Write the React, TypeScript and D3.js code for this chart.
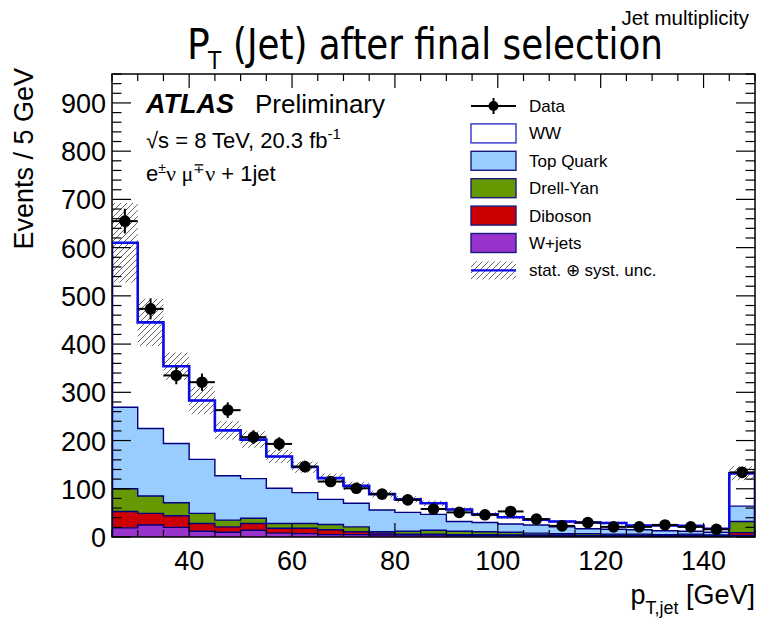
import React from 'react';
import * as d3 from 'd3';

// Bin lower edges (GeV), 5 GeV wide bins; last bin includes overflow
const binLow = [25, 30, 35, 40, 45, 50, 55, 60, 65, 70, 75, 80, 85, 90, 95, 100, 105, 110, 115, 120, 125, 130, 135, 140, 145];
const binWidth = 5;

const dataCounts = [655, 473, 335, 321, 263, 207, 193, 146, 115, 101, 89, 77, 58, 51, 46, 53, 37, 23, 30, 21, 21, 25, 21, 16, 134];
const wjets = [19, 25, 20, 12, 10, 14, 8, 7, 5, 5, 4, 4, 4, 3, 3, 3, 2, 2, 2, 2, 2, 1, 1, 1, 3];
const diboson = [34, 24, 24, 16, 11, 14, 10, 11, 10, 6, 4, 2, 2, 2, 2, 1, 2, 2, 1, 1, 1, 2, 2, 1, 6];
const drellYan = [47, 36, 27, 21, 14, 11, 10, 10, 11, 10, 3, 6, 8, 7, 6, 6, 4, 3, 4, 3, 3, 2, 3, 2, 23];
const topQuark = [169, 140, 123, 112, 92, 82, 73, 64, 52, 49, 45, 39, 33, 20, 19, 17, 17, 14, 10, 10, 9, 8, 6, 6, 32];
const ww = [341, 220, 160, 122, 94, 81, 66, 53, 44, 36, 33, 27, 23, 25, 17, 14, 11, 11, 13, 13, 9, 11, 11, 7, 68];
const relUnc = [0.135, 0.11, 0.08, 0.1, 0.085, 0.085, 0.08, 0.08, 0.08, 0.08, 0.08, 0.08, 0.08, 0.08, 0.09, 0.09, 0.1, 0.1, 0.1, 0.1, 0.1, 0.1, 0.1, 0.1, 0.11];

const xTicks = [40, 60, 80, 100, 120, 140];
const yTicks = [0, 100, 200, 300, 400, 500, 600, 700, 800, 900];

const seriesKeys = ['wjets', 'diboson', 'drellYan', 'topQuark', 'ww'];
const seriesColors: Record<string, string> = {
  wjets: '#9933cc',
  diboson: '#cc0000',
  drellYan: '#669900',
  topQuark: '#99ccff',
  ww: '#ffffff',
};
const legendLabels = ['Data', 'WW', 'Top Quark', 'Drell-Yan', 'Diboson', 'W+jets', 'stat. \u2295 syst. unc.'];
const legendKeys = ['data', 'ww', 'topQuark', 'drellYan', 'diboson', 'wjets', 'unc'];

const FONT = "'Liberation Sans', Arial, Helvetica, sans-serif";
const TITLE_FONT = "'Liberation Sans Narrow', 'DejaVu Sans Condensed', sans-serif";
const GREEK_FONT = "'Liberation Serif', 'DejaVu Serif', serif";

export default function App() {
  const W = 761, H = 620;
  const left = 112, right = 755, top = 74, bottom = 537;
  const x = d3.scaleLinear().domain([25, 150]).range([left, right]);
  const y = d3.scaleLinear().domain([0, 960]).range([bottom, top]);

  const rows = binLow.map((lo, i) => ({
    lo,
    wjets: wjets[i],
    diboson: diboson[i],
    drellYan: drellYan[i],
    topQuark: topQuark[i],
    ww: ww[i],
  }));
  const stacked = d3.stack<any>().keys(seriesKeys)(rows);
  const total = rows.map((r) => r.wjets + r.diboson + r.drellYan + r.topQuark + r.ww);

  type Pt = { x: number; y0: number; y1: number };
  const area = d3.area<Pt>().x((d) => x(d.x)).y0((d) => y(d.y0)).y1((d) => y(d.y1));
  const line = d3.line<[number, number]>().x((d) => x(d[0])).y((d) => y(d[1]));

  const stepArea = (lo: number[], hi: number[]): Pt[] =>
    binLow.flatMap((b, i) => [
      { x: b, y0: lo[i], y1: hi[i] },
      { x: b + binWidth, y0: lo[i], y1: hi[i] },
    ]);
  const stepLine = (vals: number[]): [number, number][] => [
    [binLow[0], 0],
    ...binLow.flatMap((b, i) => [[b, vals[i]], [b + binWidth, vals[i]]] as [number, number][]),
    [binLow[binLow.length - 1] + binWidth, 0],
  ];

  const uncLo = total.map((t, i) => t * (1 - relUnc[i]));
  const uncHi = total.map((t, i) => t * (1 + relUnc[i]));

  // ticks
  const xMinor = d3.range(25, 151, 5).filter((v) => !xTicks.includes(v));
  const yMinor = d3.range(0, 961, 20).filter((v) => v % 100 !== 0);
  const xMajLen = 14, xMinLen = 7, yMajLen = 19, yMinLen = 9.5;

  const legX = 471, legTextX = 529, legY0 = 106, legDy = 27.4;

  return (
    <svg width={W} height={H} style={{ position: 'absolute', left: 0, top: 0, background: '#fff' }} fontFamily={FONT}>
      <defs>
        <pattern id="hatch" patternUnits="userSpaceOnUse" width="6" height="6">
          <path d="M-1,7 L7,-1 M-4,4 L4,-4 M2,10 L10,2" stroke="#555" strokeWidth="0.9" />
        </pattern>
        <clipPath id="plotClip">
          <rect x={left} y={top} width={right - left} height={bottom - top} />
        </clipPath>
      </defs>
      <rect x={0} y={0} width={W} height={H} fill="#fff" />

      <g clipPath="url(#plotClip)">
        {/* stack fills */}
        {stacked.map((layer) => (
          <path
            key={layer.key}
            d={area(stepArea(layer.map((d) => d[0]), layer.map((d) => d[1])))!}
            fill={seriesColors[layer.key]}
            stroke="none"
          />
        ))}
        {/* stack outlines */}
        {stacked.map((layer) => (
          <path
            key={layer.key + '-o'}
            d={line(stepLine(layer.map((d) => d[1])))!}
            fill="none"
            stroke={layer.key === 'ww' ? '#1a1acc' : '#000080'}
            strokeWidth={1.4}
          />
        ))}
        {/* uncertainty band */}
        <path d={area(stepArea(uncLo, uncHi))!} fill="url(#hatch)" stroke="none" />
        {/* total line */}
        <path d={line(stepLine(total))!} fill="none" stroke="#0b0be8" strokeWidth={2.6} />

        {/* data */}
        {dataCounts.map((n, i) => {
          const cx = x(binLow[i] + binWidth / 2);
          const e = Math.sqrt(n);
          return (
            <g key={'d' + i}>
              <line x1={x(binLow[i])} x2={x(binLow[i] + binWidth)} y1={y(n)} y2={y(n)} stroke="#000" strokeWidth={2} />
              <line x1={cx} x2={cx} y1={y(n - e)} y2={y(n + e)} stroke="#000" strokeWidth={2} />
              <circle cx={cx} cy={y(n)} r={5.8} fill="#000" />
            </g>
          );
        })}
      </g>

      {/* frame */}
      <rect x={left} y={top} width={right - left} height={bottom - top} fill="none" stroke="#000" strokeWidth={1.5} />

      {/* x ticks */}
      {xTicks.map((v) => (
        <g key={'xt' + v}>
          <line x1={x(v)} x2={x(v)} y1={bottom} y2={bottom - xMajLen} stroke="#000" strokeWidth={1.2} />
          <line x1={x(v)} x2={x(v)} y1={top} y2={top + xMajLen} stroke="#000" strokeWidth={1.2} />
          <text x={x(v)} y={570} textAnchor="middle" fontSize={27} fill="#000">{v}</text>
        </g>
      ))}
      {xMinor.map((v) => (
        <g key={'xm' + v}>
          <line x1={x(v)} x2={x(v)} y1={bottom} y2={bottom - xMinLen} stroke="#000" strokeWidth={1.2} />
          <line x1={x(v)} x2={x(v)} y1={top} y2={top + xMinLen} stroke="#000" strokeWidth={1.2} />
        </g>
      ))}
      {/* y ticks */}
      {yTicks.map((v) => (
        <g key={'yt' + v}>
          <line x1={left} x2={left + yMajLen} y1={y(v)} y2={y(v)} stroke="#000" strokeWidth={1.2} />
          <line x1={right} x2={right - yMajLen} y1={y(v)} y2={y(v)} stroke="#000" strokeWidth={1.2} />
          <text x={106} y={y(v) + 10} textAnchor="end" fontSize={27} fill="#000">{v}</text>
        </g>
      ))}
      {yMinor.map((v) => (
        <g key={'ym' + v}>
          <line x1={left} x2={left + yMinLen} y1={y(v)} y2={y(v)} stroke="#000" strokeWidth={1.2} />
          <line x1={right} x2={right - yMinLen} y1={y(v)} y2={y(v)} stroke="#000" strokeWidth={1.2} />
        </g>
      ))}

      {/* axis titles */}
      <text x={755} y={604} textAnchor="end" fontSize={27} fill="#000">
        p<tspan fontSize={18} dy={10}>T,jet</tspan><tspan dy={-10}> [GeV]</tspan>
      </text>
      <text transform={`translate(33,68) rotate(-90)`} textAnchor="end" fontSize={27} fill="#000">Events / 5 GeV</text>

      {/* title */}
      <text y={59} fontSize={42} fill="#000" fontFamily={TITLE_FONT}>
        <tspan x={187}>P</tspan>
        <tspan x={208} dy={10} fontSize={24}>T</tspan>
        <tspan x={233} dy={-10} textLength={430} lengthAdjust="spacingAndGlyphs">(Jet) after final selection</tspan>
      </text>
      <text x={749} y={25} textAnchor="end" fontSize={20.5} fill="#000">Jet multiplicity</text>

      {/* ATLAS labels */}
      <text x={146} y={113} fontSize={27} fontWeight="bold" fontStyle="italic" fill="#000">ATLAS</text>
      <text x={255} y={113} fontSize={26} fill="#000">Preliminary</text>
      <text x={146} y={148} fontSize={22} fill="#000">
        {'\u221As = 8 TeV, 20.3 fb'}<tspan fontSize={15} dy={-9}>-1</tspan>
      </text>
      <text x={146} y={181} fontSize={22} fill="#000">
        e<tspan fontSize={14} dy={-8}>±</tspan><tspan dy={8} fontFamily={GREEK_FONT}>ν μ</tspan><tspan fontSize={14} dy={-8}>∓</tspan><tspan dy={8} fontFamily={GREEK_FONT}>ν</tspan><tspan> + 1jet</tspan>
      </text>

      {/* legend */}
      {legendKeys.map((k, i) => {
        const cy = legY0 + i * legDy;
        let sym: React.ReactNode;
        if (k === 'data') {
          sym = (
            <g>
              <line x1={legX} x2={legX + 45} y1={cy} y2={cy} stroke="#000" strokeWidth={2} />
              <line x1={legX + 22.5} x2={legX + 22.5} y1={cy - 8} y2={cy + 8} stroke="#000" strokeWidth={2} />
              <circle cx={legX + 22.5} cy={cy} r={5} fill="#000" />
            </g>
          );
        } else if (k === 'unc') {
          sym = (
            <g>
              <rect x={legX} y={cy - 9} width={45} height={18} fill="url(#hatch)" />
              <line x1={legX} x2={legX + 45} y1={cy} y2={cy} stroke="#0b0be8" strokeWidth={2.2} />
            </g>
          );
        } else {
          sym = (
            <rect x={legX} y={cy - 9.5} width={45} height={19} fill={seriesColors[k]} stroke={k === 'ww' ? '#3333cc' : '#1a1a80'} strokeWidth={1.4} />
          );
        }
        return (
          <g key={'leg' + k}>
            {sym}
            <text x={legTextX} y={cy + 6} fontSize={17} fill="#000">{legendLabels[i]}</text>
          </g>
        );
      })}
    </svg>
  );
}
